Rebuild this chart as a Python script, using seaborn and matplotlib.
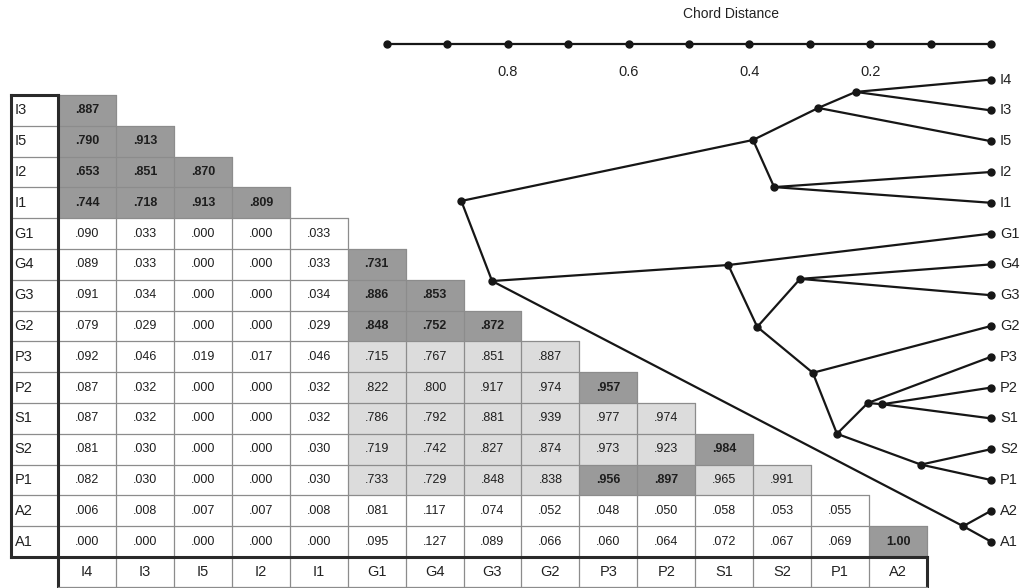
import numpy as np
import pandas as pd
import matplotlib
matplotlib.use('Agg')
import matplotlib.pyplot as plt
import seaborn as sns
from matplotlib.colors import ListedColormap

sns.set_style('white')
plt.rcParams['font.family'] = ['Liberation Sans', 'DejaVu Sans']

# Similarity matrix (lower triangle), rows I3..A1, columns I4..A2
row_labels = ['I3', 'I5', 'I2', 'I1', 'G1', 'G4', 'G3', 'G2', 'P3', 'P2', 'S1', 'S2', 'P1', 'A2', 'A1']
col_labels = ['I4', 'I3', 'I5', 'I2', 'I1', 'G1', 'G4', 'G3', 'G2', 'P3', 'P2', 'S1', 'S2', 'P1', 'A2']

sim_rows = [
    [.887],
    [.790, .913],
    [.653, .851, .870],
    [.744, .718, .913, .809],
    [.090, .033, .000, .000, .033],
    [.089, .033, .000, .000, .033, .731],
    [.091, .034, .000, .000, .034, .886, .853],
    [.079, .029, .000, .000, .029, .848, .752, .872],
    [.092, .046, .019, .017, .046, .715, .767, .851, .887],
    [.087, .032, .000, .000, .032, .822, .800, .917, .974, .957],
    [.087, .032, .000, .000, .032, .786, .792, .881, .939, .977, .974],
    [.081, .030, .000, .000, .030, .719, .742, .827, .874, .973, .923, .984],
    [.082, .030, .000, .000, .030, .733, .729, .848, .838, .956, .897, .965, .991],
    [.006, .008, .007, .007, .008, .081, .117, .074, .052, .048, .050, .058, .053, .055],
    [.000, .000, .000, .000, .000, .095, .127, .089, .066, .060, .064, .072, .067, .069, 1.00],
]

# cells highlighted dark (bold) and light grey, as (row, column)
dark_cells = ([(r, c) for r in ['I3', 'I5', 'I2', 'I1'] for c in ['I4', 'I3', 'I5', 'I2']]
              + [('G4', 'G1'), ('G3', 'G1'), ('G3', 'G4'), ('G2', 'G1'), ('G2', 'G4'), ('G2', 'G3'),
                 ('P2', 'P3'), ('S2', 'S1'), ('P1', 'P3'), ('P1', 'P2'), ('A1', 'A2')])
light_cells = ([(r, c) for r in ['P3', 'P2', 'S1', 'S2', 'P1'] for c in ['G1', 'G4', 'G3', 'G2']]
               + [('S1', 'P3'), ('S1', 'P2'), ('S2', 'P3'), ('S2', 'P2'), ('P1', 'S1'), ('P1', 'S2')])

# Dendrogram: leaves (row position, I4 sits one row above the table) and merges
leaf_names = ['I4', 'I3', 'I5', 'I2', 'I1', 'G1', 'G4', 'G3', 'G2', 'P3', 'P2', 'S1', 'S2', 'P1', 'A2', 'A1']
leaf_rows = [-1, 0, 1, 2, 3, 4, 5, 6, 7, 8, 9, 10, 11, 12, 13, 14]
merges = [  # node, left, right, chord distance, drawn row position
    ('n1', 'I4', 'I3', 0.224, -0.60),
    ('n2', 'n1', 'I5', 0.286, -0.08),
    ('n3', 'I2', 'I1', 0.359, 2.49),
    ('n4', 'n2', 'n3', 0.394, 0.96),
    ('n5', 'G4', 'G3', 0.316, 5.47),
    ('n6', 'P2', 'S1', 0.180, 9.54),
    ('n7', 'P3', 'n6', 0.204, 9.50),
    ('n8', 'S2', 'P1', 0.116, 11.50),
    ('n9', 'n7', 'n8', 0.255, 10.50),
    ('n10', 'G2', 'n9', 0.295, 8.52),
    ('n11', 'n5', 'n10', 0.387, 7.03),
    ('n12', 'G1', 'n11', 0.435, 5.02),
    ('n13', 'A2', 'A1', 0.046, 13.50),
    ('n14', 'n12', 'n13', 0.826, 5.54),
    ('n15', 'n4', 'n14', 0.877, 2.94),
]
dist_ticks = [0.0, 0.1, 0.2, 0.3, 0.4, 0.5, 0.6, 0.7, 0.8, 0.9, 1.0]
dist_labels = [0.2, 0.4, 0.6, 0.8]

# ---- build matrices
n = len(row_labels)
vals = np.full((n, n), np.nan)
for i, r in enumerate(sim_rows):
    vals[i, :len(r)] = r
shade = np.zeros((n, n))
for r, c in light_cells:
    shade[row_labels.index(r), col_labels.index(c)] = 1
for r, c in dark_cells:
    shade[row_labels.index(r), col_labels.index(c)] = 2

def fmt(v):
    if np.isnan(v):
        return ''
    return f'{v:.2f}' if v >= 1 else f'{v:.3f}'.lstrip('0')

annot = np.vectorize(fmt)(vals)
shade_df = pd.DataFrame(shade, index=row_labels, columns=col_labels)
mask = np.isnan(vals)

W, H = 1026, 588
fig = plt.figure(figsize=(W / 100, H / 100), dpi=100)
tx0, tx1, ty0, ty1 = 58, 927, 95, 557
ax = fig.add_axes([tx0 / W, 1 - ty1 / H, (tx1 - tx0) / W, (ty1 - ty0) / H])

cmap = ListedColormap(['white', '#dcdcdc', '#9a9a9a'])
sns.heatmap(shade_df, mask=mask, cmap=cmap, vmin=0, vmax=2, annot=annot, fmt='',
            cbar=False, annot_kws=dict(fontsize=9, color='#1e1e1e'),
            xticklabels=False, yticklabels=False, ax=ax)
for t in ax.texts:
    x, y = t.get_position()
    if shade[int(y), int(x)] == 2:
        t.set_fontweight('bold')

# cell borders only around the filled triangle
thin = dict(color='#8c8c8c', lw=0.9, clip_on=False)
for k in range(n + 1):
    ax.plot([0, min(k + 1, n)], [k, k], **thin)
for k in range(1, n + 1):
    ax.plot([k, k], [k - 1, n], **thin)

# label column and label row
lw_col = 47 / ((tx1 - tx0) / n)
thick = dict(color='#2a2a2a', lw=2.2, clip_on=False, solid_capstyle='projecting')
for i, lab in enumerate(row_labels):
    ax.text(-lw_col + 0.06, i + 0.5, lab, ha='left', va='center', fontsize=10.5, color='#222')
    if i > 0:
        ax.plot([-lw_col, 0], [i, i], **thin)
for j, lab in enumerate(col_labels):
    ax.text(j + 0.5, n + 0.5, lab, ha='center', va='center', fontsize=10.5, color='#222')
    if j > 0:
        ax.plot([j, j], [n, n + 1], **thin)
ax.plot([-lw_col, -lw_col], [0, n], **thick)
ax.plot([-lw_col, 0], [0, 0], **thick)
ax.plot([0, 0], [0, n + 1], **thick)
ax.plot([-lw_col, n], [n, n], **thick)
ax.plot([n, n], [n, n + 1], **thick)
ax.plot([0, n], [n + 0.98, n + 0.98], **thin)

# ---- dendrogram
dx0, dx1 = 387, 991
axd = fig.add_axes([dx0 / W, 1 - ty1 / H, (dx1 - dx0) / W, (ty1 - ty0) / H])
axd.set_xlim(1.0, 0.0)
axd.set_ylim(n, 0)
axd.axis('off')

pos = {name: (0.0, r + 0.5) for name, r in zip(leaf_names, leaf_rows)}
for node, a, b, d, r in merges:
    pos[node] = (d, r + 0.5)
line = dict(color='#161616', lw=1.6, clip_on=False)
for node, a, b, d, r in merges:
    for child in (a, b):
        axd.plot([pos[node][0], pos[child][0]], [pos[node][1], pos[child][1]], **line)
pts = np.array(list(pos.values()))
axd.plot(pts[:, 0], pts[:, 1], 'o', color='#161616', ms=5, clip_on=False)
for name, r in zip(leaf_names, leaf_rows):
    axd.text(-0.015, r + 0.5, name, ha='left', va='center', fontsize=10.5, color='#222', clip_on=False)

# distance scale on top
y_axis = (44 - ty0) / ((ty1 - ty0) / n)
y_lab = (72 - ty0) / ((ty1 - ty0) / n)
y_title = (14 - ty0) / ((ty1 - ty0) / n)
axd.plot(dist_ticks, [y_axis] * len(dist_ticks), '-o', color='#161616', lw=1.6, ms=5, clip_on=False)
for v in dist_labels:
    axd.text(v, y_lab, f'{v:.1f}', ha='center', va='center', fontsize=10.5, color='#222', clip_on=False)
axd.text(0.43, y_title, 'Chord Distance', ha='center', va='center', fontsize=10, color='#222', clip_on=False)

fig.savefig('out.png', dpi=100)
